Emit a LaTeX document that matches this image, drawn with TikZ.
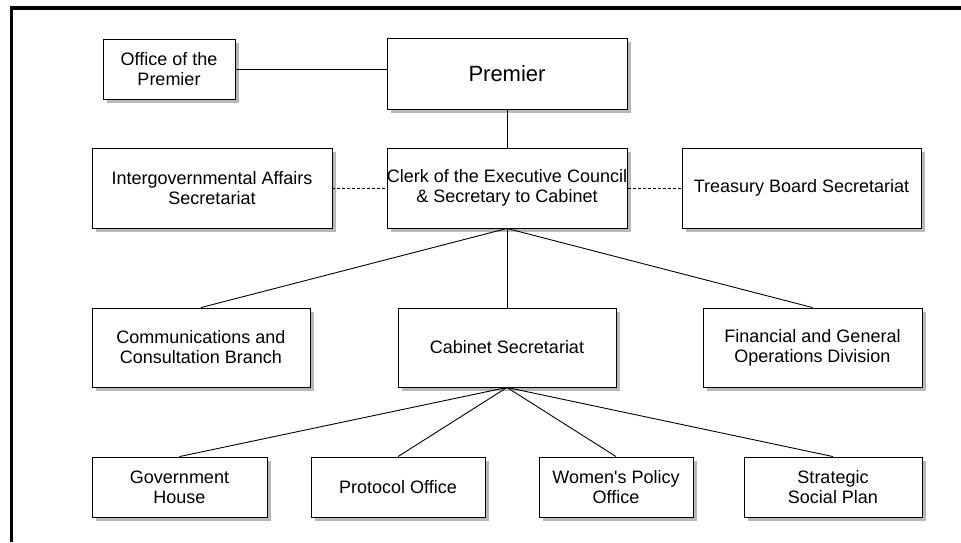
\documentclass[tikz,border=0pt]{standalone}
\usepackage{fontspec}
\setmainfont{Liberation Sans}
\usetikzlibrary{shadows}
\begin{document}
\begin{tikzpicture}[x=1pt,y=-1pt,
  box/.style={draw, line width=0.9pt, fill=white, inner sep=0pt, align=center,
    font=\fontsize{18}{20}\selectfont,
    drop shadow={shadow xshift=4pt, shadow yshift=-4pt, fill=black!28, opacity=1}},
  conn/.style={line width=0.9pt},
  dconn/.style={line width=0.9pt, dash pattern=on 3pt off 2pt},
  frame/.style={line width=3.5pt, line join=miter}]
\useasboundingbox (0,0) rectangle (961,542);
\draw[frame] (11.3,542) -- (11.3,8) -- (961,8);

\node[box, minimum width=132pt, minimum height=60pt] (ofp) at (169,69) {Office of the\\Premier};
\node[box, minimum width=240pt, minimum height=71pt, font=\fontsize{22}{24}\selectfont] (prem) at (507,73.5) {Premier};
\node[box, minimum width=240pt, minimum height=80pt] (igs) at (212,188) {Intergovernmental Affairs\\Secretariat};
\node[box, minimum width=240pt, minimum height=80pt] (clerk) at (507,188) {Clerk of the Executive Council\\\& Secretary to Cabinet};
\node[box, minimum width=239pt, minimum height=80pt] (tbs) at (801.5,188) {Treasury Board Secretariat};
\node[box, minimum width=218pt, minimum height=79pt] (comm) at (201,347.5) {Communications and\\Consultation Branch};
\node[box, minimum width=218pt, minimum height=79pt] (cab) at (507,347.5) {Cabinet Secretariat};
\node[box, minimum width=219pt, minimum height=79pt] (fin) at (812.5,347.5) {Financial and General\\Operations Division};
\node[box, minimum width=175pt, minimum height=60pt] (gov) at (179.5,487) {Government\\House};
\node[box, minimum width=174pt, minimum height=60pt] (prot) at (398,487) {Protocol Office};
\node[box, minimum width=154pt, minimum height=60pt] (wom) at (616,487) {Women\textquotesingle s Policy\\Office};
\node[box, minimum width=178pt, minimum height=60pt] (strat) at (833,487) {Strategic\\Social Plan};

\draw[conn] (ofp.east) -- (ofp.east -| prem.west);
\draw[conn] (prem.south) -- (clerk.north);
\draw[dconn] (igs.east) -- (clerk.west);
\draw[dconn] (clerk.east) -- (tbs.west);
\draw[conn] (clerk.south) -- (comm.north);
\draw[conn] (clerk.south) -- (cab.north);
\draw[conn] (clerk.south) -- (fin.north);
\draw[conn] (cab.south) -- (gov.north);
\draw[conn] (cab.south) -- (prot.north);
\draw[conn] (cab.south) -- (wom.north);
\draw[conn] (cab.south) -- (strat.north);
\end{tikzpicture}
\end{document}
